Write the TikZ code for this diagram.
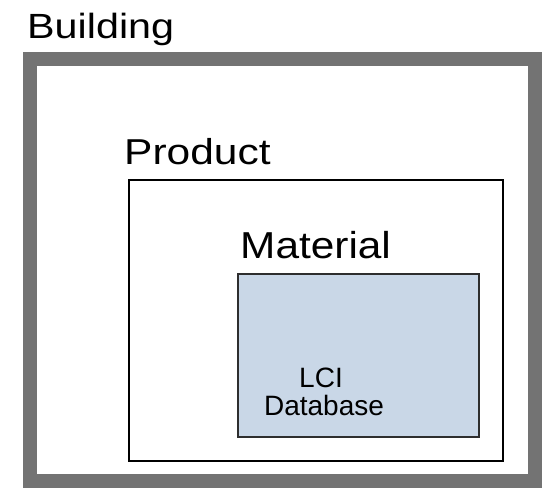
\documentclass[tikz,border=0pt]{standalone}
\usepackage{fontspec}
\setmainfont{Liberation Sans}
\definecolor{bldgray}{HTML}{737373}
\definecolor{matfill}{HTML}{C9D7E7}
\definecolor{matedge}{HTML}{2E2E2E}
\begin{document}
\begin{tikzpicture}[x=1pt,y=-1pt,
  lbl/.style={anchor=base west,inner sep=0pt,text=black},
  boxline/.style={draw=black,line width=2pt}]
\useasboundingbox (0,0) rectangle (546,488);
\fill[white] (0,0) rectangle (546,488);
% Building
\draw[bldgray,line width=14pt] (30,59) rectangle (534.5,481);
\node[lbl] (building) at (27,38) {\scalebox{1.18}[1]{\fontsize{35}{40}\selectfont Building}};
% Product
\draw[boxline] (129,180) rectangle (503,461);
\node[lbl] (product) at (124,164) {\scalebox{1.18}[1]{\fontsize{36}{40}\selectfont Product}};
% Material
\draw[draw=matedge,fill=matfill,line width=2pt] (238,274) rectangle (479,437);
\node[lbl] (material) at (240,258) {\scalebox{1.13}[1]{\fontsize{37.5}{40}\selectfont Material}};
% LCI Database
\node[anchor=base,inner sep=0pt] (lci) at (321,387) {\fontsize{28}{28}\selectfont LCI};
\node[anchor=base,inner sep=0pt] (db) at (324,415) {\fontsize{28}{28}\selectfont Database};
\end{tikzpicture}
\end{document}
